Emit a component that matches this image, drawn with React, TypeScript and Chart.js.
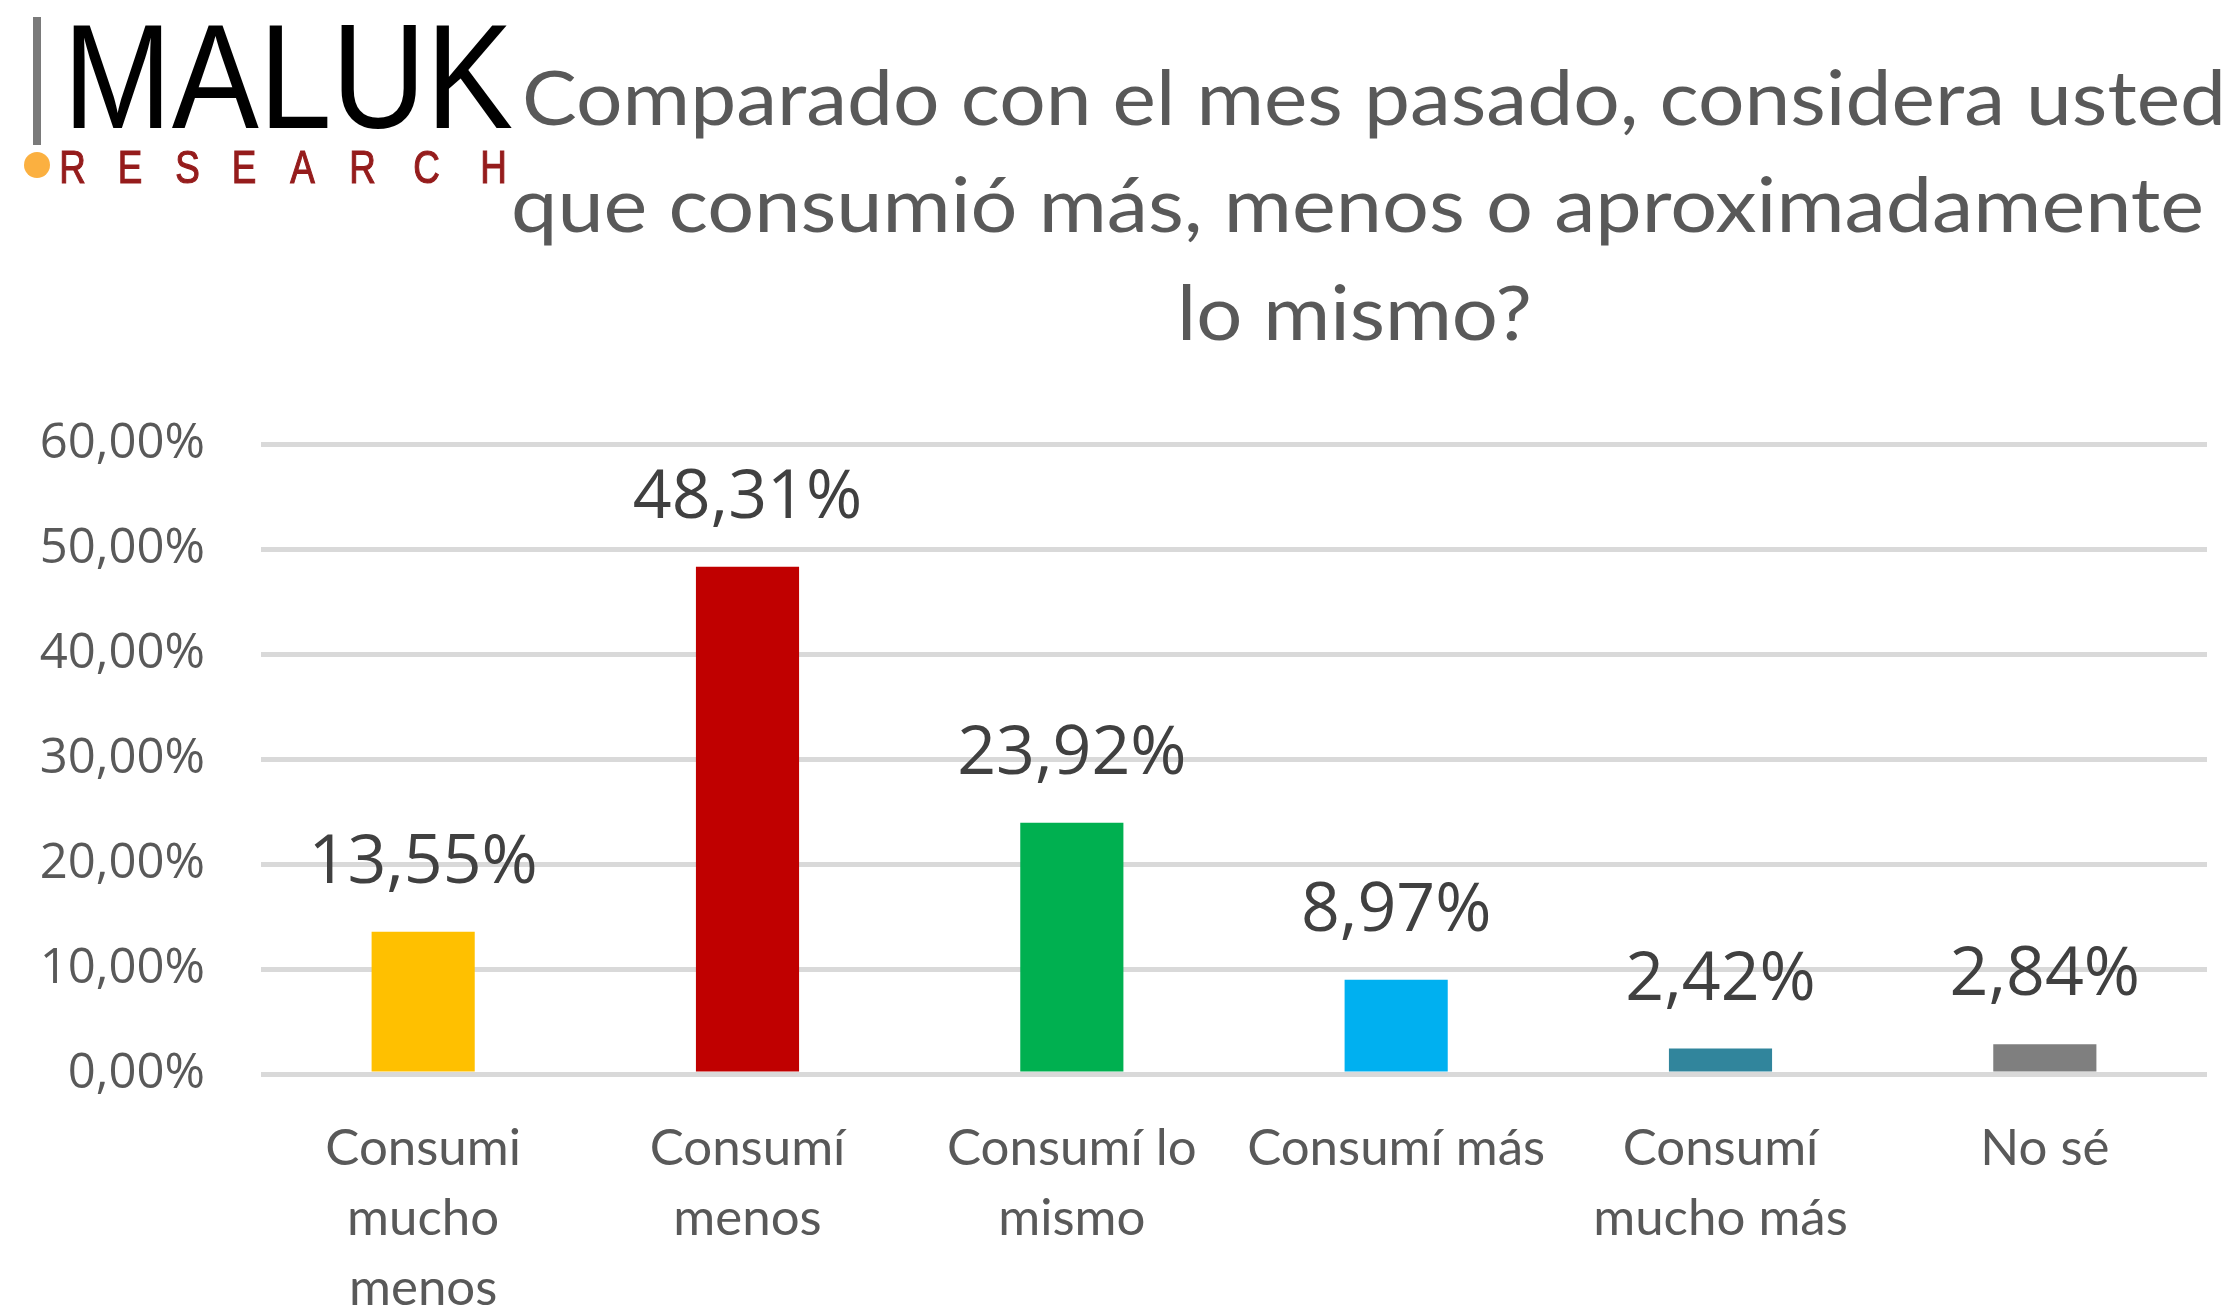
import React, { useEffect, useRef } from "react";
import { Chart, registerables } from "chart.js";

Chart.register(...registerables);

// ---- Data ----
const categories: string[][] = [
  ["Consumi", "mucho", "menos"],
  ["Consumí", "menos"],
  ["Consumí lo", "mismo"],
  ["Consumí más"],
  ["Consumí", "mucho más"],
  ["No sé"],
];
const values: number[] = [13.55, 48.31, 23.92, 8.97, 2.42, 2.84];
const barColors: string[] = ["#FFC000", "#C00000", "#00B050", "#00B0F0", "#31859C", "#7F7F7F"];
const yMin = 0;
const yMax = 60;
const yStep = 10;
const titleLines: string[] = [
  "Comparado con el mes pasado, considera usted",
  "que consumió más, menos o aproximadamente",
  "lo mismo?",
];
const logoMain = "MALUK";
const logoSub = "RESEARCH";

const fmt = (v: number) => v.toFixed(2).replace(".", ",") + "%";

const W = 2240;
const H = 1307;

function fitText(ctx: CanvasRenderingContext2D, text: string, x: number, y: number, targetW: number) {
  const w = ctx.measureText(text).width;
  const sx = targetW / w;
  ctx.save();
  ctx.translate(x, y);
  ctx.scale(sx, 1);
  ctx.fillText(text, 0, 0);
  ctx.restore();
}

const decorPlugin = {
  id: "decor",
  afterDraw(chart: any) {
    const ctx: CanvasRenderingContext2D = chart.ctx;
    ctx.save();
    // Title
    ctx.fillStyle = "#595959";
    ctx.font = "75px Lato, 'Open Sans', sans-serif";
    ctx.textAlign = "left";
    ctx.textBaseline = "alphabetic";
    const tpos = [
      { x: 522, y: 125, w: 1704 },
      { x: 511, y: 232, w: 1693 },
      { x: 1177, y: 340, w: 355 },
    ];
    titleLines.forEach((t, i) => fitText(ctx, t, tpos[i].x, tpos[i].y, tpos[i].w));

    // Logo
    ctx.fillStyle = "#7A7A7A";
    ctx.fillRect(33, 17, 8, 128);
    ctx.fillStyle = "#000000";
    ctx.font = "149px 'Liberation Sans', Arial, sans-serif";
    fitText(ctx, logoMain, 63, 128, 450);
    ctx.fillStyle = "#FBB040";
    ctx.beginPath();
    ctx.arc(37, 165, 13, 0, Math.PI * 2);
    ctx.fill();
    ctx.fillStyle = "#951C1C";
    ctx.strokeStyle = "#951C1C";
    ctx.lineWidth = 1.2;
    ctx.font = "46px 'Liberation Sans', Arial, sans-serif";
    ctx.textAlign = "center";
    const subCenters = [72.5, 130, 187.5, 244, 302.5, 362.5, 426.5, 493.5];
    logoSub.split("").forEach((ch, i) => {
      ctx.save();
      ctx.translate(subCenters[i], 183);
      ctx.scale(0.8, 1);
      ctx.fillText(ch, 0, 0);
      ctx.strokeText(ch, 0, 0);
      ctx.restore();
    });
    ctx.restore();
  },
};

const dataLabelPlugin = {
  id: "dataLabels",
  afterDatasetsDraw(chart: any) {
    const ctx: CanvasRenderingContext2D = chart.ctx;
    const meta = chart.getDatasetMeta(0);
    ctx.save();
    ctx.fillStyle = "#404040";
    ctx.font = "68px 'Open Sans', sans-serif";
    ctx.textAlign = "center";
    ctx.textBaseline = "alphabetic";
    meta.data.forEach((el: any, i: number) => {
      ctx.fillText(fmt(values[i]), el.x, el.y - 49);
    });
    ctx.restore();
  },
};

export default function App() {
  const ref = useRef<HTMLCanvasElement | null>(null);
  useEffect(() => {
    if (!ref.current) return;
    const chart = new Chart(ref.current, {
      type: "bar",
      data: {
        labels: categories,
        datasets: [
          {
            data: values,
            backgroundColor: barColors,
            borderWidth: 0,
            categoryPercentage: 1,
            barPercentage: 0.318,
          },
        ],
      },
      options: {
        animation: false,
        responsive: false,
        devicePixelRatio: 1,
        layout: { padding: { top: 444, right: 33, bottom: 0, left: 0 } },
        plugins: {
          legend: { display: false },
          title: { display: false },
          tooltip: { enabled: false },
        },
        scales: {
          x: {
            grid: { display: false, drawTicks: false },
            border: { display: false },
            ticks: {
              color: "#595959",
              padding: 40,
              maxRotation: 0,
              autoSkip: false,
              font: { family: "Lato, 'Open Sans', sans-serif", size: 51, lineHeight: 70 / 51 },
            },
            afterFit: (s: any) => {
              s.height = 233;
            },
          },
          y: {
            min: yMin,
            max: yMax,
            grid: { color: "#D9D9D9", lineWidth: 5, drawTicks: false },
            border: { display: false },
            ticks: {
              stepSize: yStep,
              color: "#595959",
              padding: 56,
              font: { family: "'Open Sans', sans-serif", size: 49 },
              callback: (v: any) => fmt(Number(v)),
            },
            afterFit: (s: any) => {
              s.width = 261;
            },
          },
        },
      },
      plugins: [dataLabelPlugin, decorPlugin],
    });
    return () => chart.destroy();
  }, []);
  return (
    <div style={{ position: "fixed", left: 0, top: 0, width: W, height: H, background: "#fff" }}>
      <canvas ref={ref} width={W} height={H} style={{ width: W, height: H, display: "block" }} />
    </div>
  );
}
